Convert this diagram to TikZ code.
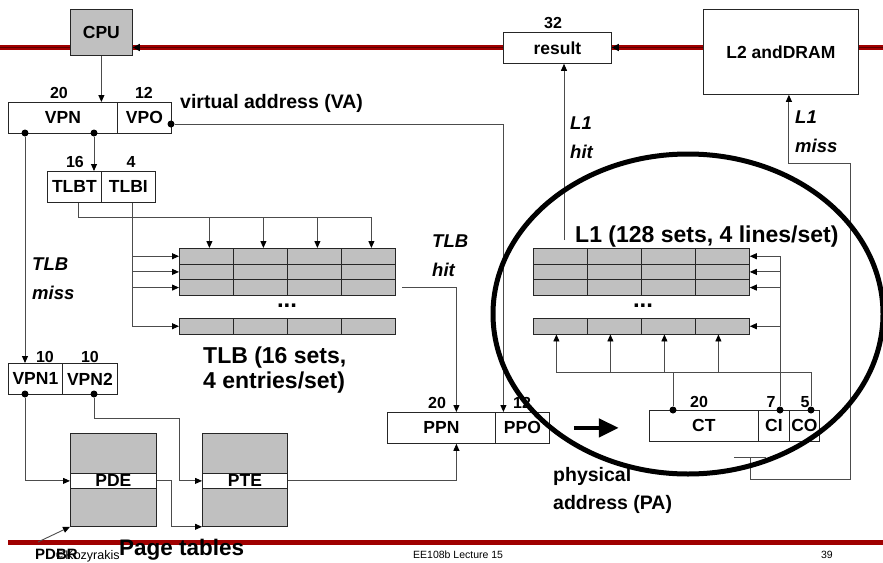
\documentclass[tikz,border=0pt]{standalone}
\usepackage{fontspec}
\setmainfont{Liberation Sans}
\usetikzlibrary{arrows.meta}
\definecolor{cellgray}{HTML}{C0C0C0}
\definecolor{busred}{HTML}{A00000}
\definecolor{buscore}{HTML}{5A0000}

\begin{document}
\begin{tikzpicture}[x=1pt,y=-1pt]
\tikzstyle{field}=[rectangle,draw=black!85,line width=0.8,inner sep=0pt,minimum height=31,anchor=north west,font=\fontsize{17.5}{17.5}\selectfont\bfseries]
\tikzstyle{entry}=[rectangle,draw=black!85,line width=0.8,fill=cellgray,inner sep=0pt,minimum width=54,minimum height=15.67,anchor=north west]
\tikzstyle{bits}=[inner sep=0pt,font=\fontsize{16}{16}\selectfont\bfseries]
\tikzstyle{dot}=[circle,fill=black,inner sep=0pt,minimum size=7]
\tikzstyle{wire}=[draw=black!70,line width=0.9]
\tikzstyle{tip}=[wire,-{Triangle[length=7pt,width=6pt,color=black]}]
\tikzstyle{cond}=[anchor=north west,align=left,inner sep=0pt,font=\fontsize{18.5}{29}\selectfont\bfseries\itshape]
\useasboundingbox (0,0) rectangle (883,562);

% bus at the top
\coordinate (busL) at (0,47.5);
\coordinate (busR) at (883,47.5);
\draw[busred,line width=5] (busL) -- (busR);
\node[field,fill=cellgray,minimum width=62,minimum height=46] (cpu) at (70,9) {CPU};
\node[field,fill=white,minimum width=108] (result) at (503,32) {result};
\node[field,fill=white,minimum width=155,minimum height=85] (l2) at (703,9) {L2 andDRAM};
\node[bits] (w32) at (553,23) {32};
\draw[buscore,line width=1.6] (busL) -- (cpu.west |- busL);
\draw[buscore,line width=1.6,-{Triangle[length=7pt,width=7pt,color=black]}] (result.west |- busL) -- (cpu.east |- busL);
\draw[buscore,line width=1.6,-{Triangle[length=7pt,width=7pt,color=black]}] (l2.west |- busL) -- (result.east |- busL);
\draw[buscore,line width=1.6] (l2.east |- busL) -- (busR);

% virtual address
\node[field,minimum width=109] (vpn) at (8,102) {VPN};
\node[field,minimum width=54] (vpo) at (117,102) {VPO};
\node[bits] (w20a) at (59,93) {20};
\node[bits] (w12a) at (144,93) {12};
\node[anchor=base west,inner sep=0pt,font=\fontsize{19.5}{20}\selectfont\bfseries] (va) at (180,108.5) {virtual address (VA)};
\draw[tip] (cpu.south) -- (cpu.south |- vpn.north);
\node[dot] (d1) at (25,133) {};
\node[dot] (d2) at (94,133) {};
\node[dot] (d3) at (171,124) {};

% TLB
\node[field,minimum width=54] (tlbt) at (47,171) {TLBT};
\node[field,minimum width=54] (tlbi) at (101,171) {TLBI};
\node[bits] (w16) at (75,162) {16};
\node[bits] (w4) at (131,162) {4};
\draw[tip] (d2) -- (d2 |- tlbt.north);
\foreach \c in {0,...,3} {
  \foreach \r in {0,1,2}
    \node[entry] (tlb-\r-\c) at (179+54*\c,248+15.67*\r) {};
  \node[entry] (tlb-3-\c) at (179+54*\c,318) {};
}
\node[anchor=base,inner sep=0pt,font=\fontsize{24}{24}\selectfont\bfseries] (tlbdots) at (287,307.5) {...};
\coordinate (tbus) at (371,217);
\draw[wire] ([xshift=4]tlbt.south) |- (tbus);
\foreach \c in {0,...,3}
  \draw[tip] ([xshift=3]tlb-0-\c.north |- tbus) -- ([xshift=3]tlb-0-\c.north);
\draw[tip] ([xshift=4]tlbi.south) |- (tlb-3-0.west);
\foreach \r in {0,1,2}
  \draw[tip] ([xshift=4]tlbi.south |- tlb-\r-0.west) -- (tlb-\r-0.west);
\node[anchor=north west,align=left,inner sep=0pt,font=\fontsize{23}{25}\selectfont\bfseries] (tlbcap) at (203,347) {TLB (16 sets,\\4 entries/set)};
\node[cond] (tlbmiss) at (32,258) {TLB\\miss};
\node[cond] (tlbhit) at (432,235) {TLB\\hit};

% page tables
\node[field,minimum width=54] (vpn1) at (8,363) {VPN1};
\node[field,minimum width=55] (vpn2) at (62,363) {VPN2};
\node[bits] (w10a) at (45,357) {10};
\node[bits] (w10b) at (90,357) {10};
\draw[tip] (d1) -- (d1 |- vpn1.north);
\node[dot] (d4) at (25,394) {};
\node[dot] (d5) at (94,394) {};
\node[field,fill=cellgray,minimum width=86,minimum height=93] (pde) at (70,433) {};
\node[field,fill=white,minimum width=86,minimum height=15] (pdeband) at (70,473) {PDE};
\node[field,fill=cellgray,minimum width=85,minimum height=93] (pte) at (202,433) {};
\node[field,fill=white,minimum width=85,minimum height=15] (pteband) at (202,473) {PTE};
\coordinate (jog) at (179,418);
\draw[tip] (d4) |- (pdeband.west);
\draw[tip] (d5) |- (jog) |- (pteband.west);
\draw[tip] (pdeband.east) -- ++(15,0) |- (pte.south west);

% physical address
\node[field,minimum width=108] (ppn) at (387,412) {PPN};
\node[field,minimum width=54] (ppo) at (495,412) {PPO};
\node[bits] (w20b) at (437,403) {20};
\node[bits] (w12b) at (522,403) {12};
\coordinate (hit) at (402,287);
\draw[tip] (d3) -| ([xshift=-19]ppo.north);
\draw[tip] (hit) -| ([xshift=15]ppn.north);
\draw[tip] (pteband.east) -| ([xshift=15]ppn.south);
\node[field,minimum width=109] (ct) at (649,410) {CT};
\node[field,minimum width=31] (ci) at (758,410) {CI};
\node[field,minimum width=30] (co) at (789,410) {CO};
\node[bits] (w20c) at (699,402) {20};
\node[bits] (w7) at (771,402) {7};
\node[bits] (w5) at (805,402) {5};
\draw[line width=4.5,-{Triangle[length=20pt,width=18pt]}] ([xshift=24]ppo.east) -- ++(45,0);
\node[anchor=north west,align=left,inner sep=0pt,font=\fontsize{19.5}{28.5}\selectfont\bfseries] (pa) at (553,467) {physical\\address (PA)};

% L1 cache
\foreach \c in {0,...,3} {
  \foreach \r in {0,1,2}
    \node[entry] (l1-\r-\c) at (533+54*\c,248+15.67*\r) {};
  \node[entry] (l1-3-\c) at (533+54*\c,318) {};
}
\node[anchor=base,inner sep=0pt,font=\fontsize{24}{24}\selectfont\bfseries] (l1dots) at (643,307.5) {...};
\node[anchor=base west,inner sep=0pt,font=\fontsize{23}{23}\selectfont\bfseries] (l1cap) at (575,242) {L1 (128 sets, 4 lines/set)};
\node[dot] (d6) at (673,410) {};
\node[dot] (d7) at (780,410) {};
\node[dot] (d8) at (811,410) {};
\coordinate (cbus) at (556,372);
\draw[wire] (cbus) -| (d8);
\draw[wire] (d6) -- (d6 |- cbus);
\foreach \c in {0,...,3}
  \draw[tip] ([xshift=-4]l1-3-\c.south |- cbus) -- ([xshift=-4]l1-3-\c.south);
\draw[wire] (d7) -- (d7 |- l1-0-3.east);
\foreach \r in {0,...,3}
  \draw[tip] (d7 |- l1-\r-3.east) -- (l1-\r-3.east);
\coordinate (l1hit) at (564,240);
\draw[tip] (l1hit) -- (l1hit |- result.south);
\node[cond] (l1hitlbl) at (570,117) {L1\\hit};
\coordinate (m1) at (734,457);
\coordinate (m2) at (766,457);
\coordinate (m3) at (750,457);
\coordinate (m4) at (850,479);
\coordinate (m5) at (850,163);
\draw[wire] (m1) -- (m2);
\draw[tip] (m3) |- (m4) -- (m5) -| ([xshift=8]l2.south);
\node[cond] (l1misslbl) at (795,111) {L1\\miss};
\draw[line width=5] (688,314) ellipse [x radius=195pt,y radius=160pt];

% footer
\coordinate (footL) at (8,542);
\coordinate (footR) at (883,542);
\draw[busred,line width=5] (footL) -- (footR);
\node[anchor=base west,inner sep=0pt,font=\fontsize{12.5}{13}\selectfont] (author) at (56,559) {\textcopyright Kozyrakis};
\node[anchor=base west,inner sep=0pt,font=\fontsize{15}{15}\selectfont\bfseries] (pdbr) at (35,559) {PDBR};
\draw[tip] ([shift={(3,-17)}]pdbr.base west) -- (pde.south west);
\node[anchor=base west,inner sep=0pt,font=\fontsize{22.5}{23}\selectfont\bfseries] (pt) at (119,555) {Page tables};
\node[anchor=base west,inner sep=0pt,font=\fontsize{10.5}{11}\selectfont] (lecture) at (413,558) {EE108b Lecture 15};
\node[anchor=base east,inner sep=0pt,font=\fontsize{10.5}{11}\selectfont] (page) at (833,558) {39};
\end{tikzpicture}
\end{document}
